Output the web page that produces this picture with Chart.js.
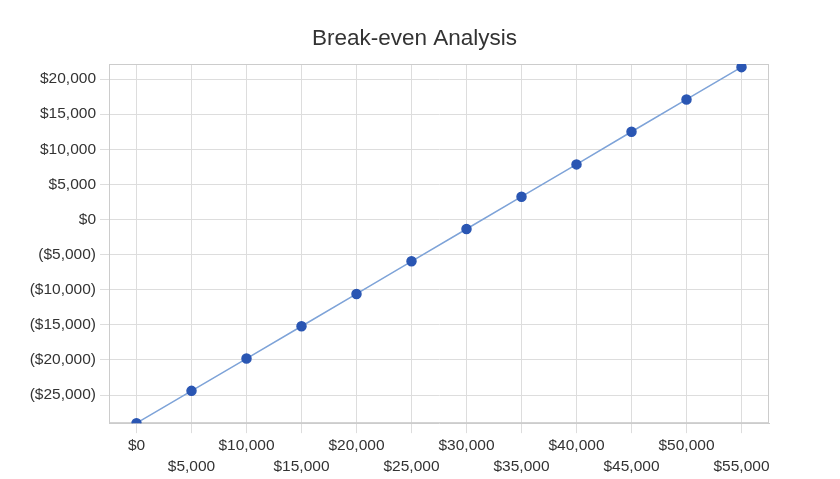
<!DOCTYPE html>
<html>
<head>
<meta charset="utf-8">
<script src="https://cdn.jsdelivr.net/npm/chart.js@4.4.0/dist/chart.umd.min.js"></script>
<style>
  html, body { margin: 0; padding: 0; background: #fff; }
  #wrap { width: 840px; height: 479px; }
</style>
</head>
<body>
<div id="wrap"><canvas id="grafico"></canvas></div>
<script>
// sales levels (x categories)
const vendas = [0, 5000, 10000, 15000, 20000, 25000, 30000, 35000, 40000, 45000, 50000, 55000];
// profit / loss at each sales level
const lucro = [-29000, -24400, -19800, -15200, -10600, -5950, -1350, 3250, 7850, 12500, 17100, 21700];
// y tick values
const yTicks = [-25000, -20000, -15000, -10000, -5000, 0, 5000, 10000, 15000, 20000];

function moeda(v) {
    let s = '$' + Math.abs(v).toLocaleString('en-US');
    return v < 0 ? '(' + s + ')' : s;
}

// box around plot area
const moldura = {
    id: 'moldura',
    beforeDatasetsDraw(chart) {
        const a = chart.chartArea;
        const c = chart.ctx;
        c.save();
        c.strokeStyle = '#cccccc';
        c.lineWidth = 1;
        c.strokeRect(a.left + 0.5, a.top + 0.5, a.right - a.left - 1, a.bottom - a.top - 1);
        c.restore();
    }
};

const fonte = "'Liberation Sans', Arial, sans-serif";

var grafico = document.getElementById('grafico').getContext('2d');
var meugrafico = new Chart(grafico, {
    type: 'line',
    data: {
        labels: vendas.map(moeda),
        datasets: [{
            label: 'Profit',
            data: lucro,
            borderColor: '#7ea3d8',
            borderWidth: 1.5,
            backgroundColor: '#2a56b3',
            pointBackgroundColor: '#2a56b3',
            pointBorderColor: '#2a56b3',
            pointRadius: 4.5,
            tension: 0
        }]
    },
    options: {
        responsive: true,
        maintainAspectRatio: false,
        animation: false,
        layout: { padding: { left: 0, right: 11, top: 9, bottom: 0 } },
        scales: {
            x: {
                offset: true,
                grid: { color: '#dddddd', tickLength: 10, offset: false },
                border: { color: '#cccccc' },
                ticks: {
                    autoSkip: false,
                    maxRotation: 0,
                    color: '#333',
                    font: { family: fonte, size: 15.5, lineHeight: 1.35 },
                    padding: 2,
                    callback: function(v, i) {
                        return i % 2 === 0 ? [moeda(vendas[i]), ''] : ['', moeda(vendas[i])];
                    }
                }
            },
            y: {
                min: -29000,
                max: 22150,
                grid: { color: '#dddddd', tickLength: 9 },
                border: { color: '#cccccc' },
                afterBuildTicks: function(axis) {
                    axis.ticks = yTicks.map(v => ({ value: v }));
                },
                afterFit: function(axis) { axis.width = 109; },
                ticks: {
                    color: '#333',
                    font: { family: fonte, size: 15.5 },
                    padding: 4,
                    callback: v => moeda(v)
                }
            },
            // empty right-side spacer
            y2: {
                position: 'right',
                grid: { display: false },
                border: { display: false },
                ticks: { display: false },
                afterFit: function(axis) { axis.width = 60; }
            }
        },
        plugins: {
            legend: { display: false },
            tooltip: { enabled: false },
            title: {
                display: true,
                text: 'Break-even Analysis',
                color: '#333',
                font: { family: fonte, size: 22.5, weight: 'normal' },
                padding: { top: 16, bottom: 12 }
            }
        }
    },
    plugins: [moldura]
});
</script>
</body>
</html>
